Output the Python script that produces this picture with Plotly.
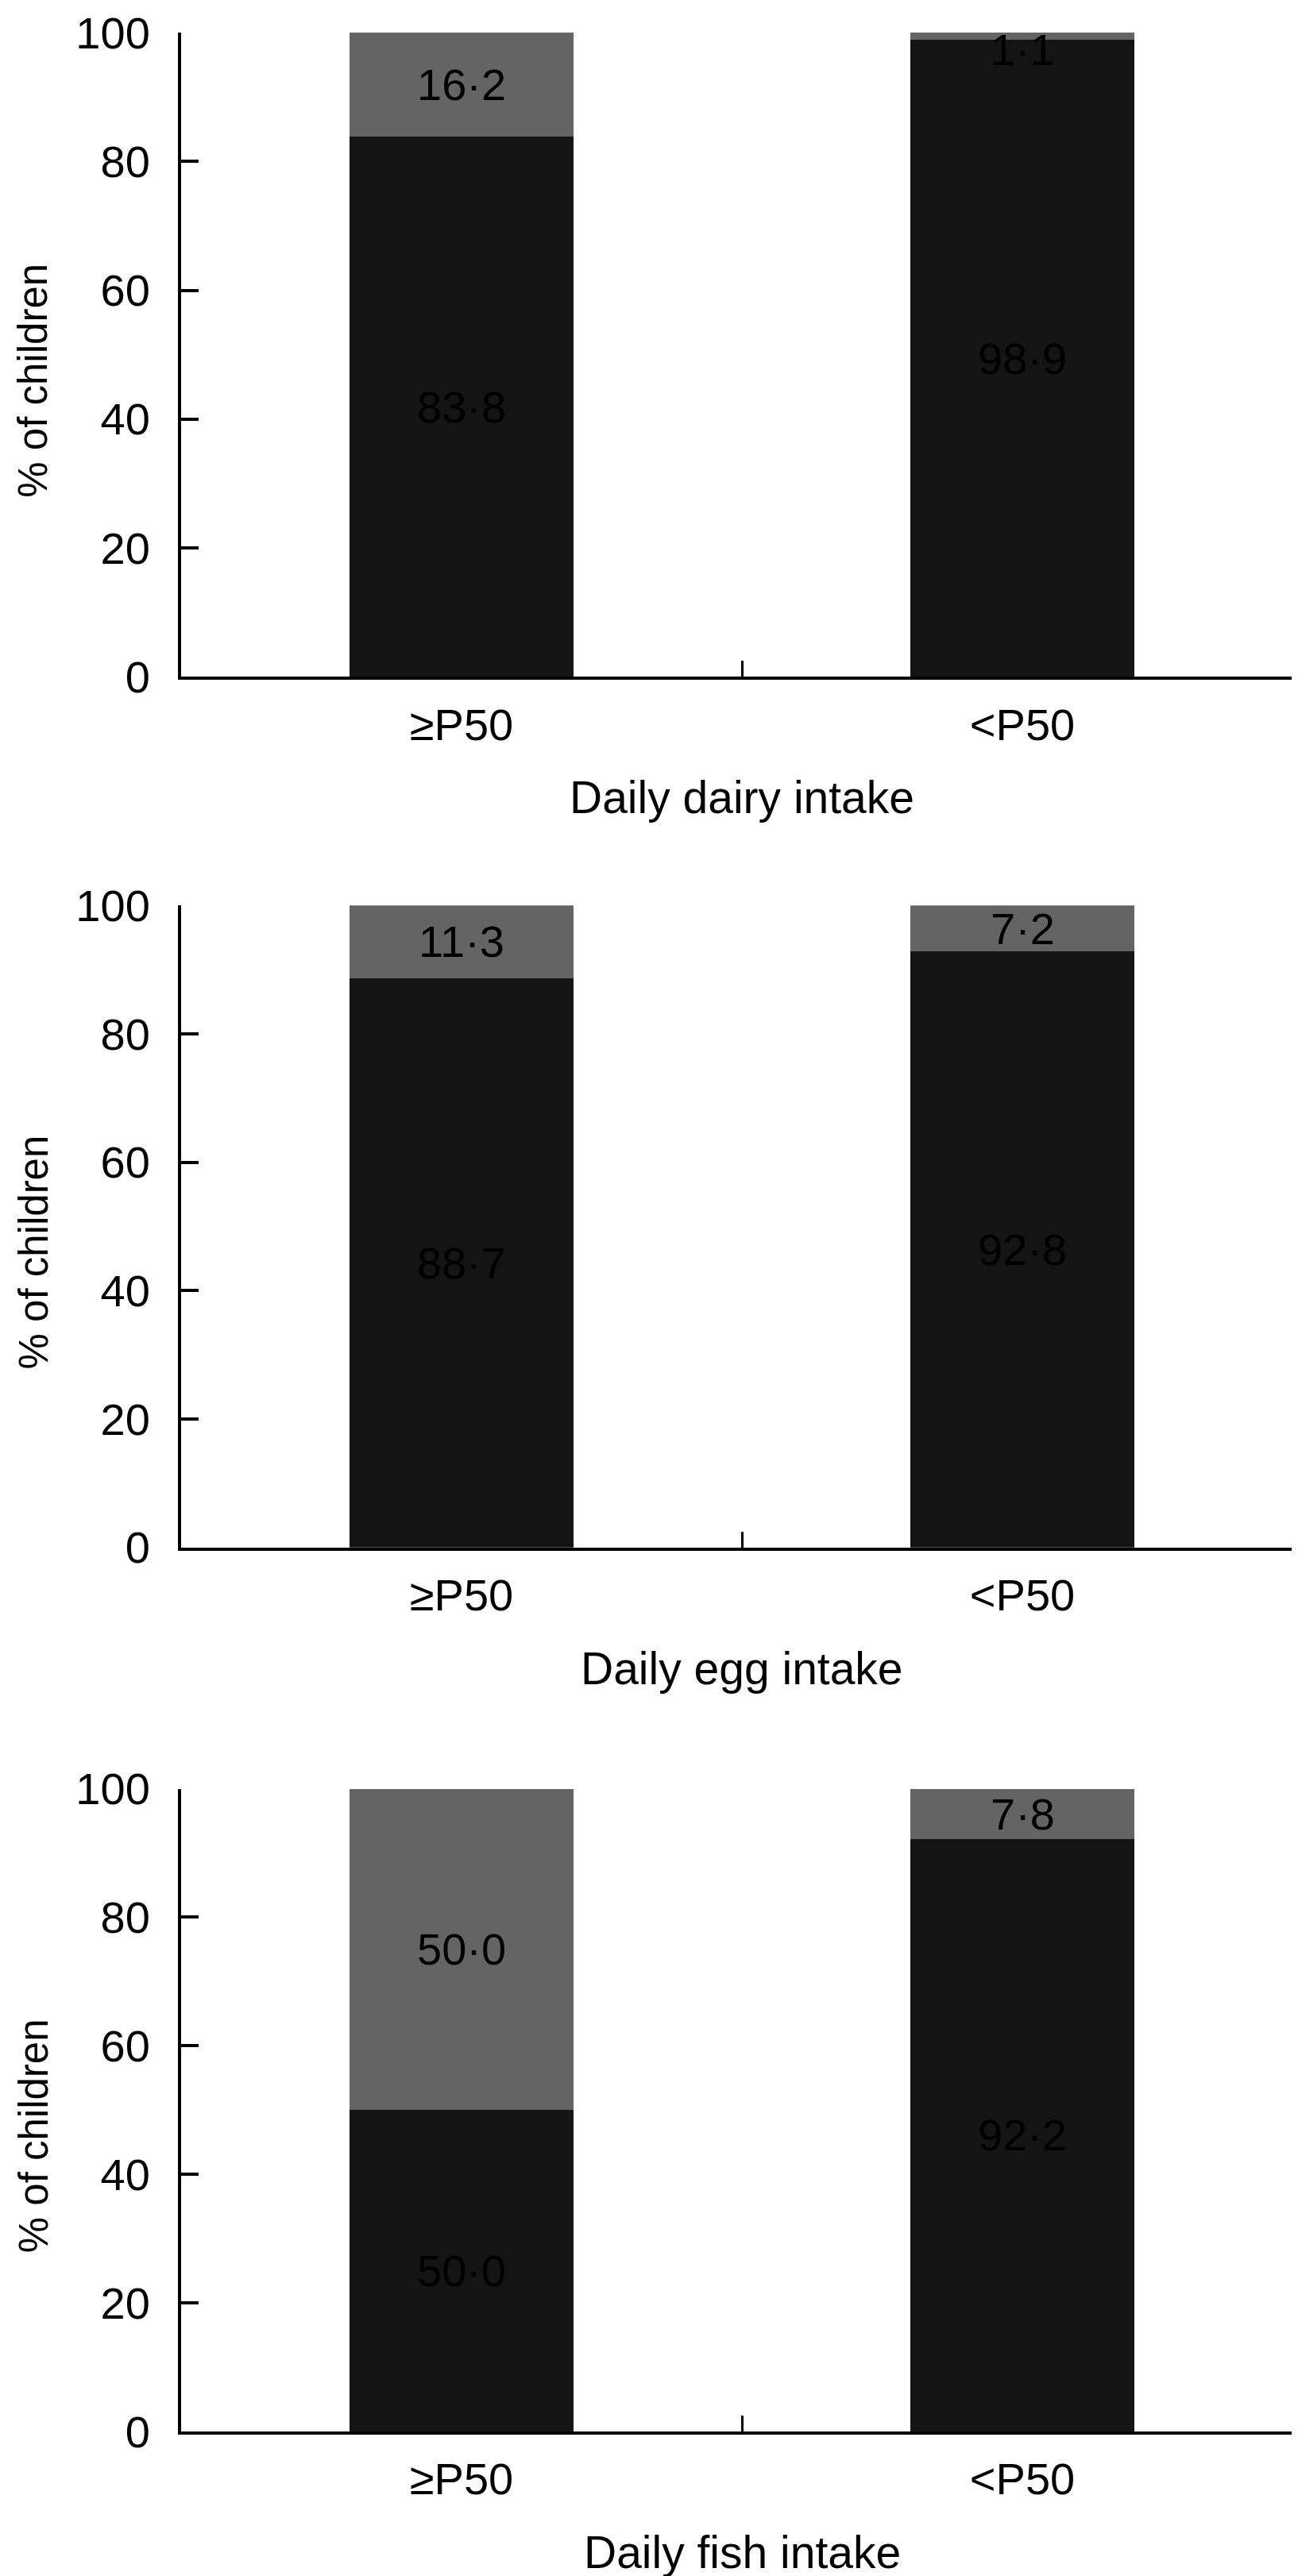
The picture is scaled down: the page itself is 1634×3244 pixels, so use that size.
import plotly.graph_objects as go

# ---- data ----
categories = ["≥P50", "<P50"]
panel_titles = ["Daily dairy intake", "Daily egg intake", "Daily fish intake"]
lower_values = [[83.8, 98.9], [88.7, 92.8], [50.0, 92.2]]   # dark segment
upper_values = [[16.2, 1.1], [11.3, 7.2], [50.0, 7.8]]      # grey segment
y_ticks = [0, 20, 40, 60, 80, 100]
y_title = "% of children"

# ---- style ----
FONT = "Liberation Sans, Arial, Helvetica, sans-serif"
FS = 56
DARK = "#141414"
GREY = "#646464"
W, H = 1634, 3244
ML, MR, MT, MB = 220, 2, 31, 190
PLOT_H = H - MT - MB
PLOT_W = W - ML - MR
panels_px = [(31, 843), (1131, 1940), (2244, 3054)]
domains = [[(H - MB - b) / PLOT_H, (H - MB - t) / PLOT_H] for t, b in panels_px]


def fmt(v):
    return f"{v:.1f}".replace(".", "\u00b7")


fig = go.Figure()
annotations = []
layout = {}
for i in range(3):
    xs = "x" if i == 0 else f"x{i+1}"
    ys = "y" if i == 0 else f"y{i+1}"
    ph = panels_px[i][1] - panels_px[i][0]
    fig.add_trace(go.Bar(x=categories, y=lower_values[i], xaxis=xs, yaxis=ys,
                         marker=dict(color=DARK, line=dict(width=0)), width=0.4,
                         showlegend=False, hoverinfo="skip"))
    fig.add_trace(go.Bar(x=categories, y=upper_values[i], xaxis=xs, yaxis=ys,
                         marker=dict(color=GREY, line=dict(width=0)), width=0.4,
                         showlegend=False, hoverinfo="skip"))
    xk = "xaxis" if i == 0 else f"xaxis{i+1}"
    yk = "yaxis" if i == 0 else f"yaxis{i+1}"
    layout[xk] = dict(domain=[0, 1], anchor=ys, type="category", range=[-0.5, 1.5],
                      showline=True, linecolor="black", linewidth=4,
                      ticks="inside", tickson="boundaries", ticklen=20, tickwidth=3,
                      tickcolor="black", showgrid=False, zeroline=False,
                      tickfont=dict(family=FONT, size=FS, color="black"),
                      ticklabelstandoff=8, fixedrange=True)
    layout[yk] = dict(domain=domains[i], anchor=xs, range=[0, 100],
                      tickvals=y_ticks, ticktext=[str(t) for t in y_ticks],
                      showline=True, linecolor="black", linewidth=4,
                      ticks="inside", ticklen=22, tickwidth=4, tickcolor="black",
                      showgrid=False, zeroline=False,
                      tickfont=dict(family=FONT, size=FS, color="black"),
                      ticklabelstandoff=24, fixedrange=True)
    # segment labels
    for j, cat in enumerate(categories):
        lo = lower_values[i][j]
        up = upper_values[i][j]
        annotations.append(dict(x=cat, y=lo / 2, xref=xs, yref=ys, text=fmt(lo),
                                showarrow=False, font=dict(family=FONT, size=FS, color="black"),
                                xanchor="center", yanchor="middle"))
        annotations.append(dict(x=cat, y=min(lo + up / 2, 97.4), xref=xs, yref=ys, text=fmt(up),
                                showarrow=False, font=dict(family=FONT, size=FS, color="black"),
                                xanchor="center", yanchor="middle"))
    # axis titles
    annotations.append(dict(x=0.5, y=-152 / ph, xref=f"{xs} domain", yref=f"{ys} domain",
                            text=panel_titles[i], showarrow=False,
                            font=dict(family=FONT, size=57, color="black"),
                            xanchor="center", yanchor="middle"))
    annotations.append(dict(x=(34 - ML) / PLOT_W, y=0.5 - 33 / ph,
                            xref=f"{xs} domain", yref=f"{ys} domain",
                            text=y_title, showarrow=False, textangle=-90,
                            font=dict(family=FONT, size=51, color="black"),
                            xanchor="center", yanchor="middle", borderpad=0))

fig.update_layout(**layout)
fig.update_layout(width=W, height=H, barmode="stack", bargap=0.6,
                  margin=dict(l=ML, r=MR, t=MT, b=MB, pad=0),
                  paper_bgcolor="white", plot_bgcolor="white",
                  annotations=annotations, showlegend=False,
                  font=dict(family=FONT, size=FS, color="black"))

fig.write_html("out.html", config={"displayModeBar": False})
